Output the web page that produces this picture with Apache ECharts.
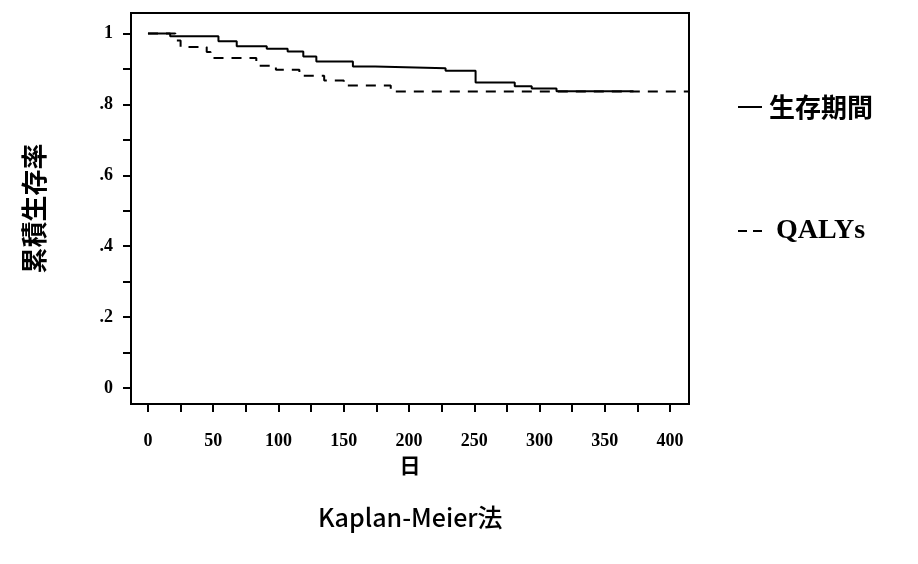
<!DOCTYPE html>
<html>
<head>
<meta charset="utf-8">
<script src="https://cdn.jsdelivr.net/npm/echarts@6/dist/echarts.min.js"></script>
<style>
html,body{margin:0;padding:0;background:#fff;}
#c{width:918px;height:564px;}
</style>
</head>
<body>
<div id="c"></div>
<script>
// Kaplan-Meier step points: day of change and new cumulative survival
var survivalDays = [0, 17, 54, 68, 91, 107, 119, 129, 157, 174, 228, 251, 281, 294, 313, 372];
var survivalRate = [1.0, 0.992, 0.978, 0.964, 0.957, 0.949, 0.935, 0.921, 0.907, 0.902, 0.895, 0.862, 0.851, 0.845, 0.837, 0.837];
var qalyDays = [0, 21, 25, 45, 48, 83, 98, 116, 135, 150, 186, 414];
var qalyRate = [1.0, 0.98, 0.962, 0.948, 0.931, 0.909, 0.898, 0.881, 0.867, 0.853, 0.836, 0.836];
var xTickLabels = [0, 50, 100, 150, 200, 250, 300, 350, 400];
var xTicks = [0, 25, 50, 75, 100, 125, 150, 175, 200, 225, 250, 275, 300, 325, 350, 375, 400];
var yTickLabels = [0, 0.2, 0.4, 0.6, 0.8, 1];
var yTicks = [0, 0.1, 0.2, 0.3, 0.4, 0.5, 0.6, 0.7, 0.8, 0.9, 1];
var seriesNames = ['生存期間', 'QALYs'];

function pairs(xs, ys){ return xs.map(function(x,i){ return [x, ys[i]]; }); }
function yFmt(v){
  var r = Math.round(v*10)/10;
  if (r === 0) return '0';
  if (r === 1) return '1';
  return String(r).replace(/^0/, '');
}

var chart = echarts.init(document.getElementById('c'), null, {renderer:'canvas'});
var serif = '"Liberation Serif", "DejaVu Serif", serif';
var cjk = '"Noto Sans CJK JP", "Noto Sans", sans-serif';
chart.setOption({
  animation: false,
  backgroundColor: '#fff',
  grid: {left: 131, right: 229, top: 13, bottom: 160, show: true, borderColor: '#000', borderWidth: 2, backgroundColor: 'transparent'},
  xAxis: {
    type: 'value', min: -13, max: 414.5,
    name: '日', nameLocation: 'middle', nameGap: 48,
    nameTextStyle: {fontFamily: cjk, fontWeight: 'bold', fontSize: 21, color: '#000'},
    axisLine: {show: false, onZero: false},
    axisTick: {show: true, customValues: xTicks, length: 8, inside: false, lineStyle: {color: '#000', width: 2}},
    axisLabel: {customValues: xTickLabels, margin: 28, fontFamily: serif, fontWeight: 'bold', fontSize: 18, color: '#000'},
    splitLine: {show: false}
  },
  yAxis: {
    type: 'value', min: -0.045, max: 1.0577,
    name: '累積生存率', nameLocation: 'middle', nameGap: 84, nameRotate: 90,
    nameTextStyle: {fontFamily: cjk, fontWeight: 'bold', fontSize: 26, color: '#000'},
    axisLine: {show: false, onZero: false},
    axisTick: {show: true, customValues: yTicks, length: 8, inside: false, lineStyle: {color: '#000', width: 2}},
    axisLabel: {customValues: yTickLabels, formatter: yFmt, margin: 18, fontFamily: serif, fontWeight: 'bold', fontSize: 18, color: '#000'},
    splitLine: {show: false}
  },
  legend: {
    orient: 'vertical', left: 733, top: 89, itemGap: 97, itemWidth: 24, itemHeight: 2,
    data: [
      {name: seriesNames[0], icon: 'rect'},
      {name: seriesNames[1], icon: 'path://M0,0h9v2h-9z M15,0h9v2h-9z'}
    ],
    itemStyle: {color: '#000', borderWidth: 0},
    formatter: function(n){ return n === 'QALYs' ? '{q|' + n + '}' : '{c|' + n + '}'; },
    textStyle: {
      rich: {
        c: {fontFamily: cjk, fontWeight: 'bold', fontSize: 26, color: '#000', padding: [0, 0, 0, 2]},
        q: {fontFamily: serif, fontWeight: 'bold', fontSize: 28, color: '#000', padding: [0, 0, 0, 9]}
      }
    }
  },
  graphic: [{
    type: 'text', left: 318, top: 505,
    style: {text: 'Kaplan-Meier法', font: '500 25px "Noto Sans CJK JP", "Noto Sans", sans-serif', fill: '#000'}
  }],
  series: [
    {name: seriesNames[0], type: 'line', step: 'end', symbol: 'none', data: pairs(survivalDays, survivalRate),
     lineStyle: {color: '#000', width: 2, type: 'solid'}, itemStyle: {color: '#000'}},
    {name: seriesNames[1], type: 'line', step: 'end', symbol: 'none', data: pairs(qalyDays, qalyRate),
     lineStyle: {color: '#000', width: 2, type: [10, 8]}, itemStyle: {color: '#000'}}
  ]
});
</script>
</body>
</html>
